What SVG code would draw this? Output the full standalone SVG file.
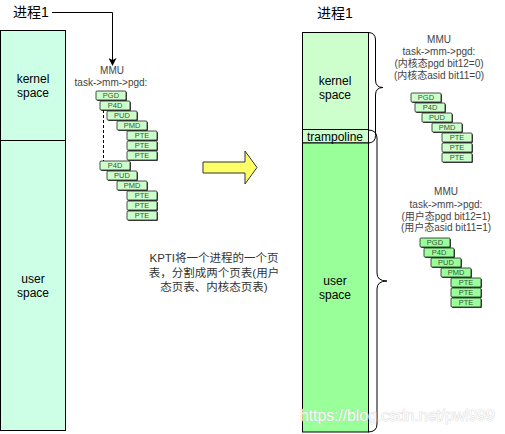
<svg xmlns="http://www.w3.org/2000/svg" width="505" height="434" viewBox="0 0 505 434">
<defs>
<style>
.t{font-family:"Liberation Sans","Noto Sans CJK SC",sans-serif;}
.lbl{font-size:12px;fill:#000;text-anchor:middle;}
.ttl{font-size:14px;fill:#000;}
.mmu{font-size:10px;fill:#444;text-anchor:middle;}
.s{fill:#444;}
.m{stroke:#222;stroke-width:0.8;}
.lt .m{fill:#ccffcc;}
.dk .m{fill:#99ff99;}
.bx text{font-size:7.5px;fill:#3a553a;text-anchor:middle;}
.edge{fill:none;stroke:#000;stroke-width:1;}
</style>
<marker id="ah" markerWidth="8" markerHeight="8" refX="7" refY="4" orient="auto" markerUnits="userSpaceOnUse">
<path d="M0,0 L8,4 L0,8 L2,4 Z" fill="#000"/>
</marker>
</defs>
<rect width="505" height="434" fill="#fff"/>

<g id="left-process" class="t">
<text class="ttl" x="13" y="17">进程1</text>
<rect x="0.5" y="30.5" width="65" height="110" fill="#ccffe6" stroke="#000"/>
<rect x="0.5" y="140.5" width="65" height="290" fill="#ccffe6" stroke="#000"/>
<text class="lbl" x="33" y="83">kernel</text>
<text class="lbl" x="33" y="97">space</text>
<text class="lbl" x="33" y="283">user</text>
<text class="lbl" x="33" y="297">space</text>
</g>

<g id="left-mmu" class="t">
<text class="mmu" x="112" y="73.5">MMU</text>
<text class="mmu" x="111" y="85.5">task-&gt;mm-&gt;pgd:</text>
</g>

<g id="left-tables" class="t bx lt">
<g transform="translate(96,91)"><rect class="s" x="1" y="1" width="30" height="9" rx="1"/><rect class="m" width="30" height="9" rx="1"/><text x="15" y="7.2">PGD</text></g>
<g transform="translate(100,101)"><rect class="s" x="1" y="1" width="30" height="9" rx="1"/><rect class="m" width="30" height="9" rx="1"/><text x="15" y="7.2">P4D</text></g>
<g transform="translate(107,111)"><rect class="s" x="1" y="1" width="30" height="9" rx="1"/><rect class="m" width="30" height="9" rx="1"/><text x="15" y="7.2">PUD</text></g>
<g transform="translate(117,121)"><rect class="s" x="1" y="1" width="30" height="9" rx="1"/><rect class="m" width="30" height="9" rx="1"/><text x="15" y="7.2">PMD</text></g>
<g transform="translate(127,131)"><rect class="s" x="1" y="1" width="30" height="9" rx="1"/><rect class="m" width="30" height="9" rx="1"/><text x="15" y="7.2">PTE</text></g>
<g transform="translate(127,141)"><rect class="s" x="1" y="1" width="30" height="9" rx="1"/><rect class="m" width="30" height="9" rx="1"/><text x="15" y="7.2">PTE</text></g>
<g transform="translate(127,151)"><rect class="s" x="1" y="1" width="30" height="9" rx="1"/><rect class="m" width="30" height="9" rx="1"/><text x="15" y="7.2">PTE</text></g>
<g transform="translate(100,161)"><rect class="s" x="1" y="1" width="30" height="9" rx="1"/><rect class="m" width="30" height="9" rx="1"/><text x="15" y="7.2">P4D</text></g>
<g transform="translate(107,171)"><rect class="s" x="1" y="1" width="30" height="9" rx="1"/><rect class="m" width="30" height="9" rx="1"/><text x="15" y="7.2">PUD</text></g>
<g transform="translate(117,181)"><rect class="s" x="1" y="1" width="30" height="9" rx="1"/><rect class="m" width="30" height="9" rx="1"/><text x="15" y="7.2">PMD</text></g>
<g transform="translate(127,191)"><rect class="s" x="1" y="1" width="30" height="9" rx="1"/><rect class="m" width="30" height="9" rx="1"/><text x="15" y="7.2">PTE</text></g>
<g transform="translate(127,201)"><rect class="s" x="1" y="1" width="30" height="9" rx="1"/><rect class="m" width="30" height="9" rx="1"/><text x="15" y="7.2">PTE</text></g>
<g transform="translate(127,211)"><rect class="s" x="1" y="1" width="30" height="9" rx="1"/><rect class="m" width="30" height="9" rx="1"/><text x="15" y="7.2">PTE</text></g>
</g>

<g id="kpti-text" class="t" font-size="11.5" fill="#333" text-anchor="middle">
<text x="214" y="262">KPTI将一个进程的一个页</text>
<text x="214" y="276.5">表，分割成两个页表(用户</text>
<text x="214" y="291">态页表、内核态页表)</text>
</g>

<g id="big-arrow">
<polygon points="203,162 245,162 245,151 257,167.5 245,184 245,173 203,173" fill="#ffff66" stroke="#333" stroke-width="1"/>
</g>

<g id="right-process" class="t">
<text class="ttl" x="317" y="18">进程1</text>
<rect x="302.5" y="32.5" width="66" height="97" fill="#ccffcc" stroke="#000"/>
<rect x="302.5" y="129.5" width="66" height="13.5" fill="#ccffcc" stroke="#000"/>
<rect x="302.5" y="143" width="66" height="289" fill="#99ff99" stroke="#000"/>
<text class="lbl" x="335" y="85">kernel</text>
<text class="lbl" x="335" y="99">space</text>
<text class="lbl" x="335" y="141">trampoline</text>
<text class="lbl" x="335" y="285">user</text>
<text class="lbl" x="335" y="299">space</text>
</g>

<g id="right-mmu-kernel" class="t">
<text class="mmu" x="439" y="43">MMU</text>
<text class="mmu" x="439" y="55">task-&gt;mm-&gt;pgd:</text>
<text class="mmu" x="439" y="67">(内核态pgd bit12=0)</text>
<text class="mmu" x="439" y="79">(内核态asid bit11=0)</text>
</g>

<g id="right-tables-kernel" class="t bx lt">
<g transform="translate(411,93)"><rect class="s" x="1" y="1" width="30" height="9" rx="1"/><rect class="m" width="30" height="9" rx="1"/><text x="15" y="7.2">PGD</text></g>
<g transform="translate(415,103)"><rect class="s" x="1" y="1" width="30" height="9" rx="1"/><rect class="m" width="30" height="9" rx="1"/><text x="15" y="7.2">P4D</text></g>
<g transform="translate(422,113)"><rect class="s" x="1" y="1" width="30" height="9" rx="1"/><rect class="m" width="30" height="9" rx="1"/><text x="15" y="7.2">PUD</text></g>
<g transform="translate(432,123)"><rect class="s" x="1" y="1" width="30" height="9" rx="1"/><rect class="m" width="30" height="9" rx="1"/><text x="15" y="7.2">PMD</text></g>
<g transform="translate(442,133)"><rect class="s" x="1" y="1" width="30" height="9" rx="1"/><rect class="m" width="30" height="9" rx="1"/><text x="15" y="7.2">PTE</text></g>
<g transform="translate(442,143)"><rect class="s" x="1" y="1" width="30" height="9" rx="1"/><rect class="m" width="30" height="9" rx="1"/><text x="15" y="7.2">PTE</text></g>
<g transform="translate(442,153)"><rect class="s" x="1" y="1" width="30" height="9" rx="1"/><rect class="m" width="30" height="9" rx="1"/><text x="15" y="7.2">PTE</text></g>
</g>

<g id="right-mmu-user" class="t">
<text class="mmu" x="446" y="195">MMU</text>
<text class="mmu" x="446" y="207.5">task-&gt;mm-&gt;pgd:</text>
<text class="mmu" x="446" y="219.5">(用户态pgd bit12=1)</text>
<text class="mmu" x="446" y="231">(用户态asid bit11=1)</text>
</g>

<g id="right-tables-user" class="t bx dk">
<g transform="translate(420,238)"><rect class="s" x="1" y="1" width="30" height="9" rx="1"/><rect class="m" width="30" height="9" rx="1"/><text x="15" y="7.2">PGD</text></g>
<g transform="translate(424,248)"><rect class="s" x="1" y="1" width="30" height="9" rx="1"/><rect class="m" width="30" height="9" rx="1"/><text x="15" y="7.2">P4D</text></g>
<g transform="translate(431,258)"><rect class="s" x="1" y="1" width="30" height="9" rx="1"/><rect class="m" width="30" height="9" rx="1"/><text x="15" y="7.2">PUD</text></g>
<g transform="translate(441,268)"><rect class="s" x="1" y="1" width="30" height="9" rx="1"/><rect class="m" width="30" height="9" rx="1"/><text x="15" y="7.2">PMD</text></g>
<g transform="translate(451,278)"><rect class="s" x="1" y="1" width="30" height="9" rx="1"/><rect class="m" width="30" height="9" rx="1"/><text x="15" y="7.2">PTE</text></g>
<g transform="translate(451,288)"><rect class="s" x="1" y="1" width="30" height="9" rx="1"/><rect class="m" width="30" height="9" rx="1"/><text x="15" y="7.2">PTE</text></g>
<g transform="translate(451,298)"><rect class="s" x="1" y="1" width="30" height="9" rx="1"/><rect class="m" width="30" height="9" rx="1"/><text x="15" y="7.2">PTE</text></g>
</g>

<g id="connectors">
<path class="edge" d="M52,12.5 L112.5,12.5 L112.5,65" marker-end="url(#ah)"/>
<path class="edge" d="M103.5,110 L103.5,161" stroke-dasharray="3 2"/>
<path class="edge" d="M368,32.5 Q375.5,32.5 375.5,40 L375.5,80 Q375.5,87.5 383,87.5 Q375.5,87.5 375.5,95 L375.5,135.5 Q375.5,143 368,143"/>
<path class="edge" d="M368,130 Q377,130 377,138 L377,273 Q377,281 387,281 Q377,281 377,289 L377,424 Q377,432 368,432"/>
</g>

<text class="t" x="300" y="421" font-size="16" textLength="195" fill="#fff" fill-opacity="0.85" stroke="#ccc" stroke-width="0.6" paint-order="stroke">https://blog.csdn.net/pwl999</text>
</svg>
